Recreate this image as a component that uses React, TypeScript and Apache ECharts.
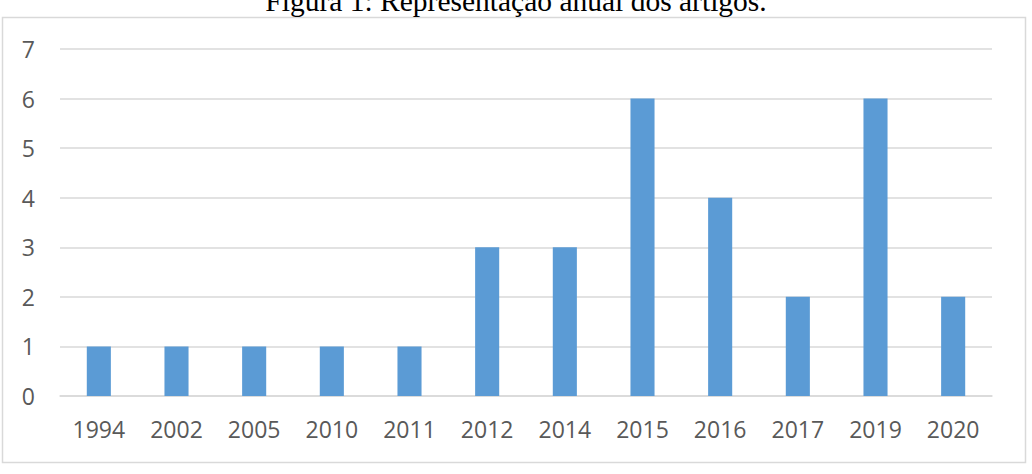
import React, { useEffect, useRef } from "react";
import * as echarts from "echarts";

const years = ["1994", "2002", "2005", "2010", "2011", "2012", "2014", "2015", "2016", "2017", "2019", "2020"];
const articles = [1, 1, 1, 1, 1, 3, 3, 6, 4, 2, 6, 2];
const yTicks = { min: 0, max: 7, interval: 1 };
const title = "Figura 1: Representação anual dos artigos.";

export default function App() {
  const ref = useRef<HTMLDivElement>(null);

  useEffect(() => {
    if (!ref.current) return;
    const chart = echarts.init(ref.current, undefined, { renderer: "svg" });
    const labelFont = { fontFamily: "Open Sans", fontSize: 23, color: "#595959" };
    chart.setOption({
      animation: false,
      backgroundColor: "#ffffff",
      graphic: [
        {
          type: "rect",
          shape: { x: 2.5, y: 17.5, width: 1023, height: 445 },
          style: { fill: "none", stroke: "#d9d9d9", lineWidth: 1.5 },
          z: 0,
        },
        {
          type: "text",
          x: 516,
          y: -14,
          style: {
            text: title,
            fontFamily: "Liberation Serif",
            fontSize: 29.5,
            fill: "#000000",
            align: "center",
            verticalAlign: "top",
          },
          z: 10,
        },
      ],
      grid: { left: 60, right: 40, top: 49, bottom: 78, containLabel: false },
      xAxis: {
        type: "category",
        data: years,
        axisLine: { show: true, lineStyle: { color: "#d9d9d9", width: 1.5 } },
        axisTick: { show: false },
        axisLabel: { ...labelFont, margin: 21 },
      },
      yAxis: {
        type: "value",
        min: yTicks.min,
        max: yTicks.max,
        interval: yTicks.interval,
        axisLine: { show: false },
        axisTick: { show: false },
        splitLine: { lineStyle: { color: "#d9d9d9", width: 1.5 } },
        axisLabel: { ...labelFont, margin: 25 },
      },
      series: [
        {
          type: "bar",
          data: articles,
          barWidth: "31%",
          itemStyle: { color: "#5b9bd5" },
        },
      ],
    });
    return () => chart.dispose();
  }, []);

  return (
    <div
      ref={ref}
      style={{ position: "fixed", left: 0, top: 0, width: 1032, height: 474 }}
    />
  );
}
